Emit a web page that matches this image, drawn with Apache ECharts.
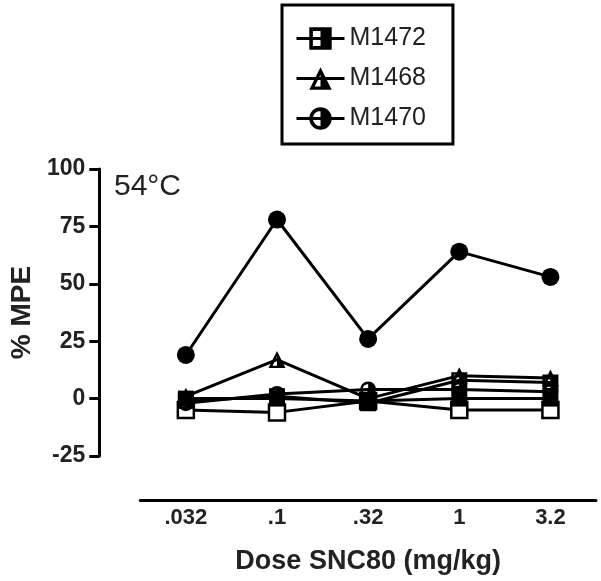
<!DOCTYPE html>
<html>
<head>
<meta charset="utf-8">
<script src="https://cdn.jsdelivr.net/npm/echarts@6/dist/echarts.min.js"></script>
<style>
  html, body { margin: 0; padding: 0; background: #fff; }
  #chart { width: 601px; height: 581px; }
</style>
</head>
<body>
<div id="chart"></div>
<script>
const doses = ['.032', '.1', '.32', '1', '3.2']
const yTicks = [-25, 0, 25, 50, 75, 100]

const filledCircle = [19, 78, 26, 64, 53]
const m1468 = [1, 17, 0, 10, 9]
const m1472 = [-1, 1, -2, 8, 7]
const m1470 = [-2, 2, 4, 4, 3]
const filledSquare = [0, 0, -1, 0, 0]
const openSquare = [-5, -6, -1, -5, -5]

// half-filled markers: outline ring + right half solid
const halfSquare = 'path://M0,0L10,0L10,10L0,10Z M1.6,1.6L1.6,8.4L8.4,8.4L8.4,1.6Z M5,0L10,0L10,10L5,10Z'
const halfCircle = 'path://M5,0A5,5,0,1,1,5,10A5,5,0,1,1,5,0Z M5,1.6A3.4,3.4,0,1,0,5,8.4A3.4,3.4,0,1,0,5,1.6Z M5,0A5,5,0,0,1,5,10Z'
const halfTriangle = 'path://M5,0L10,10L0,10Z M5,3.2L2.4,8.6L7.6,8.6Z M5,0L10,10L5,10Z'

const font = 'Liberation Sans, Arial, sans-serif'
const lineStyle = { color: '#000', width: 3 }

const chart = echarts.init(document.getElementById('chart'))

const option = {
  backgroundColor: '#fff',
  animation: false,
  title: {
    text: '54°C',
    left: 114,
    top: 172,
    padding: 0,
    textStyle: { fontFamily: font, fontSize: 30, fontWeight: 'normal', color: '#222' }
  },
  legend: {
    data: ['M1472', 'M1468', 'M1470'],
    orient: 'vertical',
    left: 282,
    top: 5,
    padding: [21, 27, 13, 13],
    itemGap: 15,
    itemWidth: 48,
    itemHeight: 28,
    lineStyle: { color: '#000', width: 3 },
    borderColor: '#000',
    borderWidth: 3,
    textStyle: { fontFamily: font, fontSize: 25, color: '#222' }
  },
  grid: {
    left: 136,
    right: 5,
    top: 169,
    bottom: 125
  },
  xAxis: {
    type: 'category',
    data: doses,
    offset: 44,
    axisLine: { onZero: false, lineStyle: { color: '#000', width: 3 } },
    axisTick: { alignWithLabel: true, length: 7, lineStyle: { width: 3 } },
    axisLabel: { margin: 7, fontFamily: font, fontSize: 22, fontWeight: 'bold', color: '#222' },
    name: 'Dose SNC80 (mg/kg)',
    nameLocation: 'middle',
    nameGap: 48,
    nameTextStyle: { fontFamily: font, fontSize: 27, fontWeight: 'bold', color: '#222' }
  },
  yAxis: {
    type: 'value',
    min: yTicks[0],
    max: yTicks[yTicks.length - 1],
    interval: 25,
    offset: 41,
    splitLine: { show: false },
    axisLine: { show: true, lineStyle: { color: '#000', width: 3 } },
    axisTick: { show: true, length: 10, lineStyle: { width: 3 } },
    axisLabel: { margin: 14, fontFamily: font, fontSize: 23, fontWeight: 'bold', color: '#222' },
    name: '% MPE',
    nameLocation: 'middle',
    nameGap: 62,
    nameRotate: 90,
    nameTextStyle: { fontFamily: font, fontSize: 28, fontWeight: 'bold', color: '#222' }
  },
  series: [
    {
      name: 'open square', type: 'line', data: openSquare,
      symbol: 'rect', symbolSize: 16, lineStyle,
      itemStyle: { color: '#fff', borderColor: '#000', borderWidth: 2.5 }
    },
    {
      name: 'M1470', type: 'line', data: m1470,
      symbol: halfCircle, symbolSize: 16, lineStyle,
      itemStyle: { color: '#000' }
    },
    {
      name: 'filled square', type: 'line', data: filledSquare,
      symbol: 'rect', symbolSize: 16, lineStyle,
      itemStyle: { color: '#000' }
    },
    {
      name: 'M1472', type: 'line', data: m1472,
      symbol: halfSquare, symbolSize: 16, lineStyle,
      itemStyle: { color: '#000' }
    },
    {
      name: 'M1468', type: 'line', data: m1468,
      symbol: halfTriangle, symbolSize: 17, lineStyle,
      itemStyle: { color: '#000' }
    },
    {
      name: 'filled circle', type: 'line', data: filledCircle,
      symbol: 'circle', symbolSize: 18, lineStyle,
      itemStyle: { color: '#000' }
    }
  ]
}

chart.setOption(option)
</script>
</body>
</html>
